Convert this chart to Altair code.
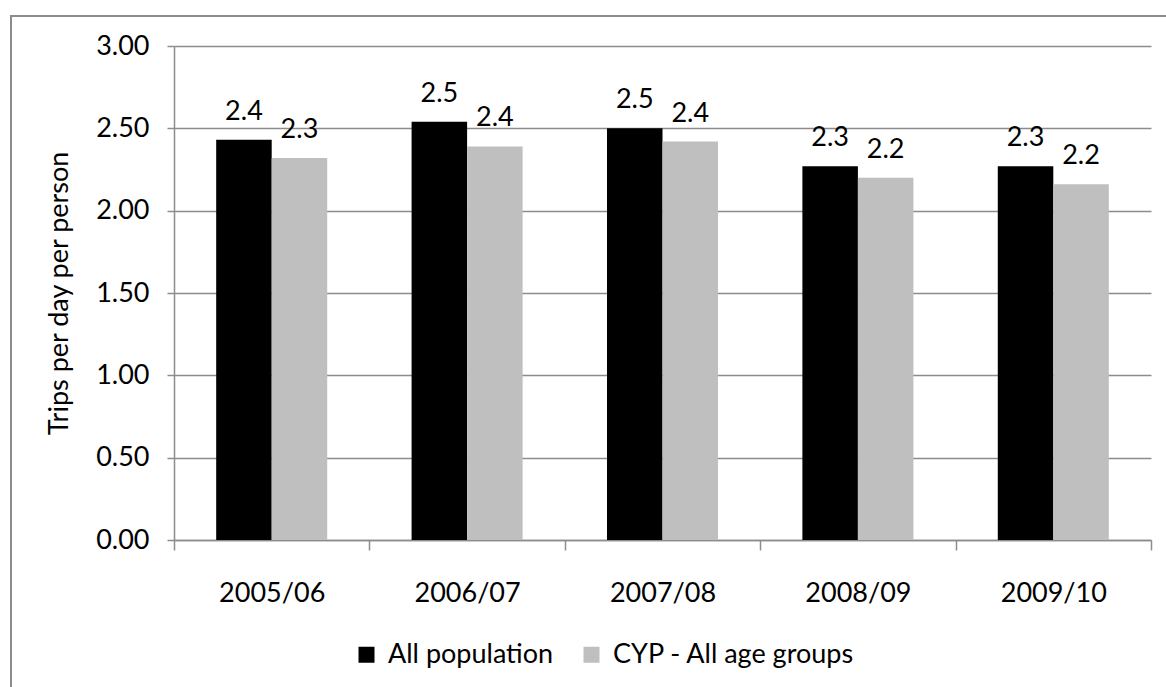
import altair as alt
import pandas as pd

# Trips per day per person by year, all population vs CYP
years = ["2005/06", "2006/07", "2007/08", "2008/09", "2009/10"]
series = ["All population", "CYP - All age groups"]
all_population = [2.43, 2.54, 2.50, 2.27, 2.27]
cyp_all_ages = [2.32, 2.39, 2.42, 2.20, 2.16]
y_ticks = [0.0, 0.5, 1.0, 1.5, 2.0, 2.5, 3.0]

rows = []
for i, yr in enumerate(years):
    rows.append({"year": yr, "series": series[0], "value": all_population[i]})
    rows.append({"year": yr, "series": series[1], "value": cyp_all_ages[i]})
df = pd.DataFrame(rows)

FONT = "Lato"
FS = 27
GRID = "#8c8c8c"

x_enc = alt.X(
    "year:N",
    sort=years,
    title=None,
    scale=alt.Scale(paddingInner=0, paddingOuter=0),
    axis=alt.Axis(
        labelAngle=0,
        labelFontSize=FS,
        labelColor="#000000",
        labelPadding=30,
        tickBand="extent",
        tickSize=10,
        tickColor=GRID,
        tickWidth=1.5,
        domainColor=GRID,
        domainWidth=1.5,
        grid=False,
    ),
)
xoff_enc = alt.XOffset(
    "series:N", sort=series, scale=alt.Scale(paddingInner=0, paddingOuter=0.76)
)
y_enc = alt.Y(
    "value:Q",
    scale=alt.Scale(domain=[0, 3], nice=False),
    axis=alt.Axis(
        values=y_ticks,
        format=".2f",
        title="Trips per day per person",
        titleFontSize=FS,
        titleFontWeight="normal",
        titleColor="#000000",
        titleX=-107,
        titleY=247,
        titleAngle=270,
        titleAlign="center",
        titleBaseline="alphabetic",
        labelFontSize=FS,
        labelColor="#000000",
        labelPadding=18,
        tickSize=7,
        tickColor=GRID,
        tickWidth=1.5,
        domainColor=GRID,
        domainWidth=1.5,
        grid=True,
        gridColor=GRID,
        gridWidth=1.5,
    ),
)

bars = alt.Chart(df).mark_bar().encode(
    x=x_enc,
    xOffset=xoff_enc,
    y=y_enc,
    color=alt.Color(
        "series:N",
        sort=series,
        scale=alt.Scale(domain=series, range=["#000000", "#bfbfbf"]),
        legend=alt.Legend(
            title=None,
            orient="none",
            direction="horizontal",
            legendX=179,
            legendY=595,
            symbolType="square",
            symbolSize=256,
            symbolStrokeWidth=0,
            labelFontSize=FS,
            labelColor="#000000",
            labelOffset=8,
            labelLimit=0,
            columnPadding=24,
            padding=0,
        ),
    ),
)

labels = alt.Chart(df).mark_text(
    fontSize=FS, baseline="alphabetic", dy=-20, color="#000000", font=FONT
).encode(
    x=alt.X("year:N", sort=years),
    xOffset=alt.XOffset("series:N", sort=series),
    y=alt.Y("value:Q"),
    text=alt.Text("value:Q", format=".1f"),
)

# outer chart frame
frame = alt.Chart(pd.DataFrame({"k": [0]})).mark_rect(
    fill=None, stroke="#8c8c8c", strokeWidth=2
).encode(
    x=alt.value(-163), x2=alt.value(1010), y=alt.value(-30), y2=alt.value(660)
)

chart = (
    alt.layer(frame, bars, labels)
    .properties(
        width=977,
        height=494,
        autosize=alt.AutoSizeParams(type="none"),
        padding={"left": 174, "top": 46, "right": 15, "bottom": 147},
        background="#ffffff",
    )
    .configure(font=FONT)
    .configure_view(stroke=None)
)

chart.save("out.html", embed_options={"renderer": "svg", "actions": False})
